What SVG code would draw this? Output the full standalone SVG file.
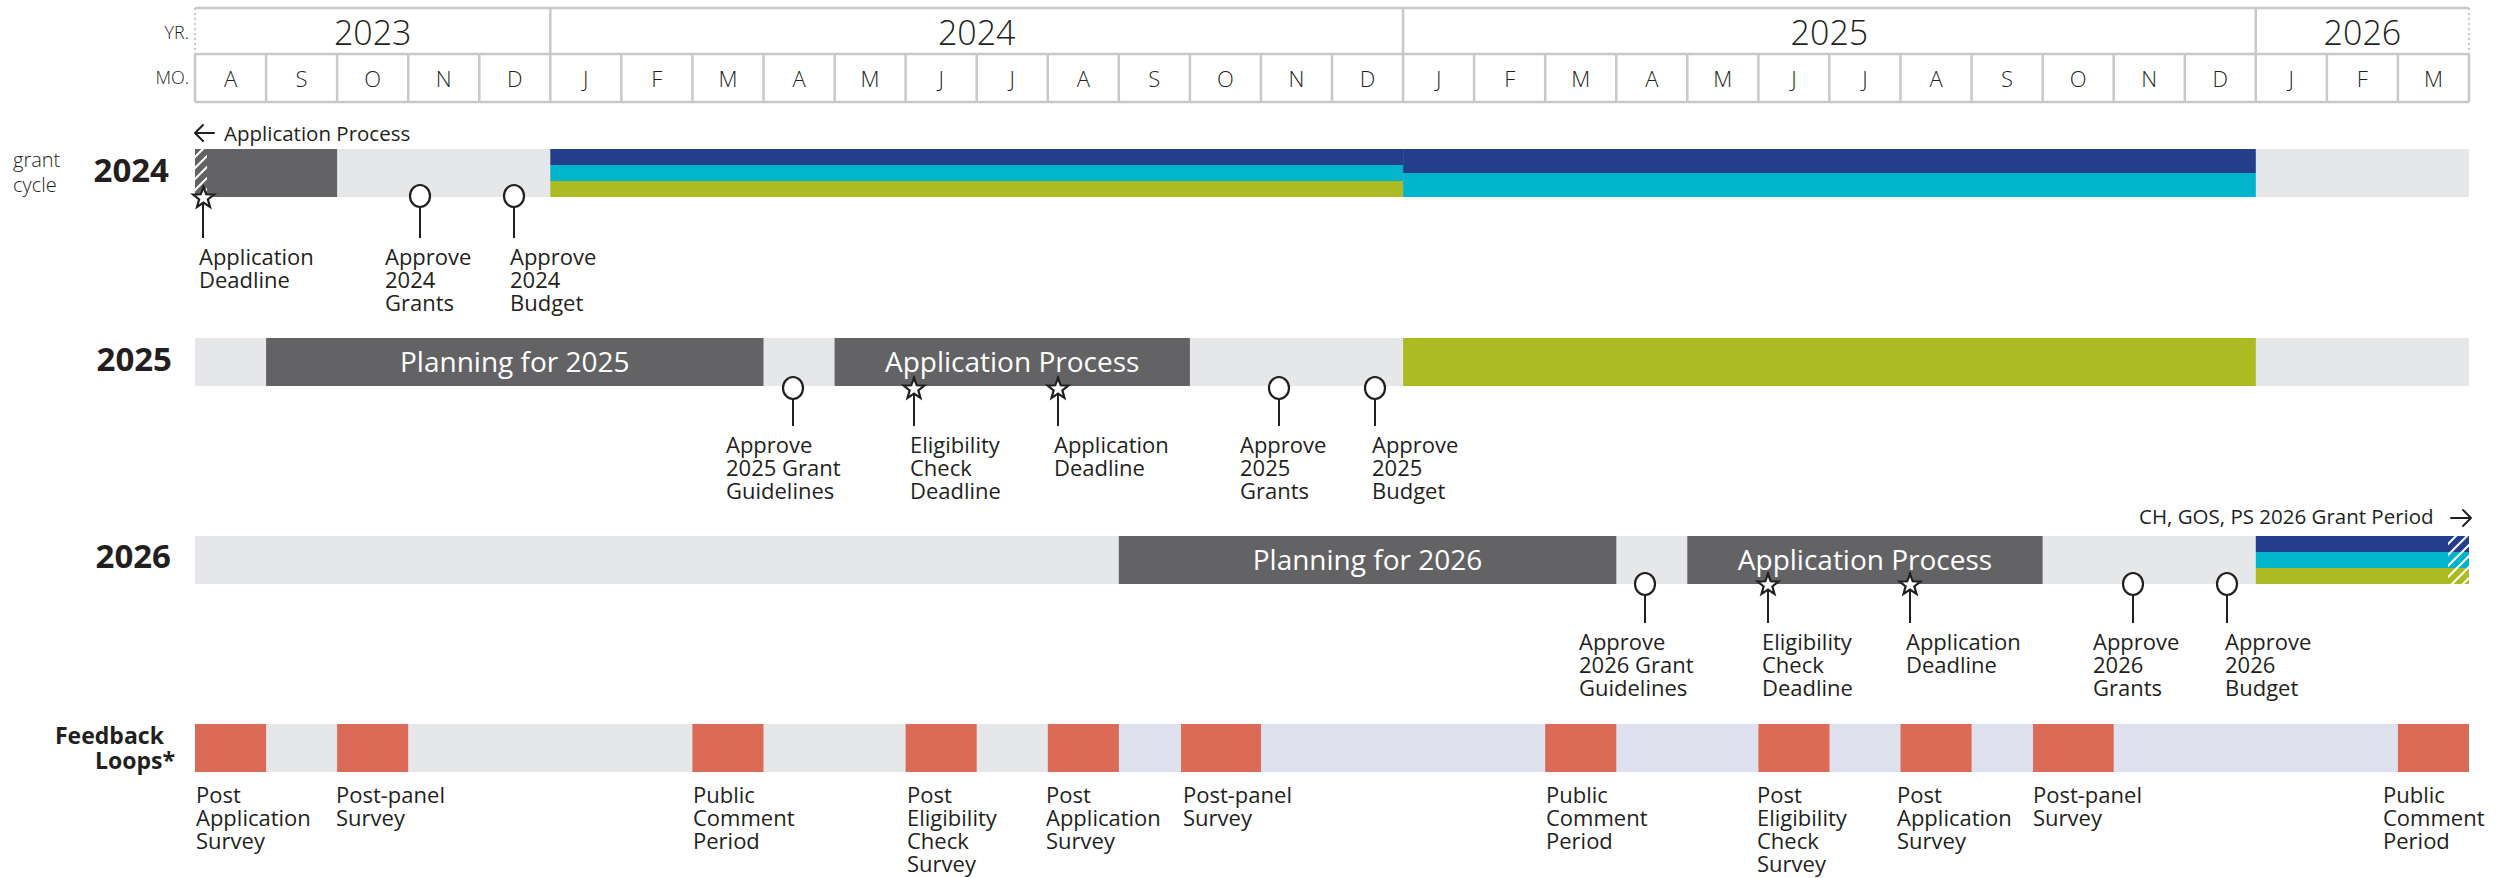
<svg xmlns="http://www.w3.org/2000/svg" width="2508" height="878" viewBox="0 0 2508 878">
<style>
text{font-family:'Open Sans','Liberation Sans',sans-serif;fill:#231f20}
.hdr{stroke:#c7c8ca;stroke-width:2.5;fill:none}
.dot{stroke:#c7c8ca;stroke-width:2;stroke-dasharray:2 3;fill:none}
.yr{font-size:34px;font-weight:300;text-anchor:middle}
.mo{font-size:22px;font-weight:300;text-anchor:middle}
.ax{font-size:18px;font-weight:300;text-anchor:end}
.row{font-size:33px;font-weight:700;text-anchor:end}
.lbl{font-size:22px;font-weight:500}
.bar{font-size:28px;font-weight:500;fill:#ffffff;text-anchor:middle}
.note{font-size:20.5px;font-weight:500}
.lg{fill:#e6e7e8}
.dg{fill:#636365}
.nv{fill:#253e8c}
.cy{fill:#00b4cb}
.gr{fill:#adbb22}
.or{fill:#db6b57}
.lv{fill:#dfe1ee}
.stem{stroke:#231f20;stroke-width:2;fill:none}
.ms{fill:#ffffff;stroke:#231f20;stroke-width:2.2}
.arr{stroke:#231f20;stroke-width:2;fill:none;stroke-linecap:round;stroke-linejoin:round}
</style>
<defs>
<path id="star" d="M0,-11 L2.7,-3.72 L10.46,-3.4 L4.37,1.42 L6.47,8.9 L0,4.6 L-6.47,8.9 L-4.37,1.42 L-10.46,-3.4 L-2.7,-3.72 Z"/>
<pattern id="hatch" patternUnits="userSpaceOnUse" width="11" height="11">
<path d="M-3,3 L3,-3 M0,11 L11,0 M8,14 L14,8" stroke="#ffffff" stroke-width="2"/>
</pattern>
</defs>

<g id="header">
<line class="hdr" x1="195" y1="8" x2="2469" y2="8"/>
<line class="hdr" x1="195" y1="54" x2="2469" y2="54"/>
<line class="hdr" x1="195" y1="102" x2="2469" y2="102"/>
<line class="dot" x1="195" y1="8" x2="195" y2="54"/>
<line class="dot" x1="2469" y1="8" x2="2469" y2="54"/>
<line class="hdr" x1="550.3" y1="8" x2="550.3" y2="54"/>
<line class="hdr" x1="1403.1" y1="8" x2="1403.1" y2="54"/>
<line class="hdr" x1="2255.8" y1="8" x2="2255.8" y2="54"/>
<path class="hdr" d="M195,54V102 M266.1,54V102 M337.1,54V102 M408.2,54V102 M479.3,54V102 M550.3,54V102 M621.4,54V102 M692.4,54V102 M763.5,54V102 M834.6,54V102 M905.6,54V102 M976.7,54V102 M1047.8,54V102 M1118.8,54V102 M1189.9,54V102 M1260.9,54V102 M1332,54V102 M1403.1,54V102 M1474.1,54V102 M1545.2,54V102 M1616.3,54V102 M1687.3,54V102 M1758.4,54V102 M1829.4,54V102 M1900.5,54V102 M1971.6,54V102 M2042.6,54V102 M2113.7,54V102 M2184.8,54V102 M2255.8,54V102 M2326.9,54V102 M2397.9,54V102 M2469,54V102"/>
<text class="ax" x="189" y="39">YR.</text>
<text class="ax" x="189" y="84">MO.</text>
<text class="yr" x="372.7" y="45">2023</text>
<text class="yr" x="976.7" y="45">2024</text>
<text class="yr" x="1829.4" y="45">2025</text>
<text class="yr" x="2362.4" y="45">2026</text>
<text class="mo" y="87"><tspan x="230.5">A</tspan><tspan x="301.6">S</tspan><tspan x="372.7">O</tspan><tspan x="443.7">N</tspan><tspan x="514.8">D</tspan><tspan x="585.8">J</tspan><tspan x="656.9">F</tspan><tspan x="728">M</tspan><tspan x="799">A</tspan><tspan x="870.1">M</tspan><tspan x="941.2">J</tspan><tspan x="1012.2">J</tspan><tspan x="1083.3">A</tspan><tspan x="1154.3">S</tspan><tspan x="1225.4">O</tspan><tspan x="1296.5">N</tspan><tspan x="1367.5">D</tspan><tspan x="1438.6">J</tspan><tspan x="1509.7">F</tspan><tspan x="1580.7">M</tspan><tspan x="1651.8">A</tspan><tspan x="1722.8">M</tspan><tspan x="1793.9">J</tspan><tspan x="1865">J</tspan><tspan x="1936">A</tspan><tspan x="2007.1">S</tspan><tspan x="2078.2">O</tspan><tspan x="2149.2">N</tspan><tspan x="2220.3">D</tspan><tspan x="2291.3">J</tspan><tspan x="2362.4">F</tspan><tspan x="2433.5">M</tspan></text>
</g>

<g id="row-2024">
<text x="13" y="167" style="font-size:20px;font-weight:300">grant</text>
<text x="13" y="192" style="font-size:20px;font-weight:300">cycle</text>
<text class="row" x="169" y="182">2024</text>
<rect class="lg" x="195" y="149" width="2274" height="48"/>
<rect class="dg" x="195" y="149" width="142.1" height="48"/>
<rect fill="url(#hatch)" x="195" y="149" width="12" height="48"/>
<rect class="nv" x="550.3" y="149" width="852.8" height="16"/>
<rect class="cy" x="550.3" y="165" width="852.8" height="16"/>
<rect class="gr" x="550.3" y="181" width="852.8" height="16"/>
<rect class="nv" x="1403.1" y="149" width="852.7" height="24"/>
<rect class="cy" x="1403.1" y="173" width="852.7" height="24"/>
<path class="arr" d="M214,133 H195 M203,125 L195,133 L203,141"/>
<text class="note" x="224" y="141">Application Process</text>
</g>

<g id="row-2025">
<text class="row" x="172" y="371">2025</text>
<rect class="lg" x="195" y="338" width="2274" height="48"/>
<rect class="dg" x="266.1" y="338" width="497.4" height="48"/>
<text class="bar" x="514.8" y="372">Planning for 2025</text>
<rect class="dg" x="834.6" y="338" width="355.3" height="48"/>
<text class="bar" x="1012.2" y="372">Application Process</text>
<rect class="gr" x="1403.1" y="338" width="852.7" height="48"/>
</g>

<g id="row-2026">
<text class="row" x="171" y="568">2026</text>
<rect class="lg" x="195" y="536" width="2274" height="48"/>
<rect class="dg" x="1118.8" y="536" width="497.5" height="48"/>
<text class="bar" x="1367.5" y="570">Planning for 2026</text>
<rect class="dg" x="1687.3" y="536" width="355.3" height="48"/>
<text class="bar" x="1865" y="570">Application Process</text>
<rect class="nv" x="2255.8" y="536" width="213.2" height="16"/>
<rect class="cy" x="2255.8" y="552" width="213.2" height="16"/>
<rect class="gr" x="2255.8" y="568" width="213.2" height="16"/>
<rect fill="url(#hatch)" x="2448" y="536" width="21" height="48"/>
<text class="note" x="2139" y="524">CH, GOS, PS 2026 Grant Period</text>
<path class="arr" d="M2451,518 H2471 M2463,510 L2471,518 L2463,526"/>
</g>

<g id="feedback">
<text x="55" y="744" style="font-size:23px;font-weight:700">Feedback</text>
<text x="95" y="769" style="font-size:23px;font-weight:700">Loops*</text>
<rect class="lg" x="195" y="724" width="924" height="48"/>
<rect class="lv" x="1118.8" y="724" width="1350.2" height="48"/>
<rect class="or" x="195" y="724" width="71.1" height="48"/>
<rect class="or" x="337.1" y="724" width="71.1" height="48"/>
<rect class="or" x="692.4" y="724" width="71.1" height="48"/>
<rect class="or" x="905.6" y="724" width="71.1" height="48"/>
<rect class="or" x="1047.8" y="724" width="71.1" height="48"/>
<rect class="or" x="1181" y="724" width="80" height="48"/>
<rect class="or" x="1545.2" y="724" width="71.1" height="48"/>
<rect class="or" x="1758.4" y="724" width="71.1" height="48"/>
<rect class="or" x="1900.5" y="724" width="71.1" height="48"/>
<rect class="or" x="2033" y="724" width="80.7" height="48"/>
<rect class="or" x="2397.9" y="724" width="71.1" height="48"/>
<text class="lbl" x="196" y="803">Post<tspan x="196" dy="23">Application</tspan><tspan x="196" dy="23">Survey</tspan></text>
<text class="lbl" x="336" y="803">Post-panel<tspan x="336" dy="23">Survey</tspan></text>
<text class="lbl" x="693" y="803">Public<tspan x="693" dy="23">Comment</tspan><tspan x="693" dy="23">Period</tspan></text>
<text class="lbl" x="907" y="803">Post<tspan x="907" dy="23">Eligibility</tspan><tspan x="907" dy="23">Check</tspan><tspan x="907" dy="23">Survey</tspan></text>
<text class="lbl" x="1046" y="803">Post<tspan x="1046" dy="23">Application</tspan><tspan x="1046" dy="23">Survey</tspan></text>
<text class="lbl" x="1183" y="803">Post-panel<tspan x="1183" dy="23">Survey</tspan></text>
<text class="lbl" x="1546" y="803">Public<tspan x="1546" dy="23">Comment</tspan><tspan x="1546" dy="23">Period</tspan></text>
<text class="lbl" x="1757" y="803">Post<tspan x="1757" dy="23">Eligibility</tspan><tspan x="1757" dy="23">Check</tspan><tspan x="1757" dy="23">Survey</tspan></text>
<text class="lbl" x="1897" y="803">Post<tspan x="1897" dy="23">Application</tspan><tspan x="1897" dy="23">Survey</tspan></text>
<text class="lbl" x="2033" y="803">Post-panel<tspan x="2033" dy="23">Survey</tspan></text>
<text class="lbl" x="2383" y="803">Public<tspan x="2383" dy="23">Comment</tspan><tspan x="2383" dy="23">Period</tspan></text>
</g>

<g id="connectors">
<path class="stem" d="M203,186V238 M420,207V238 M514,207V238"/>
<path class="stem" d="M793,398V426 M914,376V426 M1058,376V426 M1279,398V426 M1375,398V426"/>
<path class="stem" d="M1645,595V623 M1768,572V623 M1910,572V623 M2133,595V623 M2227,595V623"/>
</g>

<g id="m2024-app-deadline"><use href="#star" class="ms" x="203.5" y="198"/><text class="lbl" x="199" y="265">Application<tspan x="199" dy="23">Deadline</tspan></text></g>
<g id="m2024-grants"><ellipse class="ms" cx="420" cy="196" rx="10" ry="11"/><text class="lbl" x="385" y="265">Approve<tspan x="385" dy="23">2024</tspan><tspan x="385" dy="23">Grants</tspan></text></g>
<g id="m2024-budget"><ellipse class="ms" cx="514" cy="196" rx="10" ry="11"/><text class="lbl" x="510" y="265">Approve<tspan x="510" dy="23">2024</tspan><tspan x="510" dy="23">Budget</tspan></text></g>

<g id="m2025-guidelines"><ellipse class="ms" cx="793" cy="388" rx="10" ry="11"/><text class="lbl" x="726" y="453">Approve<tspan x="726" dy="23">2025 Grant</tspan><tspan x="726" dy="23">Guidelines</tspan></text></g>
<g id="m2025-elig"><use href="#star" class="ms" x="914" y="389"/><text class="lbl" x="910" y="453">Eligibility<tspan x="910" dy="23">Check</tspan><tspan x="910" dy="23">Deadline</tspan></text></g>
<g id="m2025-app-deadline"><use href="#star" class="ms" x="1058" y="389"/><text class="lbl" x="1054" y="453">Application<tspan x="1054" dy="23">Deadline</tspan></text></g>
<g id="m2025-grants"><ellipse class="ms" cx="1279" cy="388" rx="10" ry="11"/><text class="lbl" x="1240" y="453">Approve<tspan x="1240" dy="23">2025</tspan><tspan x="1240" dy="23">Grants</tspan></text></g>
<g id="m2025-budget"><ellipse class="ms" cx="1375" cy="388" rx="10" ry="11"/><text class="lbl" x="1372" y="453">Approve<tspan x="1372" dy="23">2025</tspan><tspan x="1372" dy="23">Budget</tspan></text></g>

<g id="m2026-guidelines"><ellipse class="ms" cx="1645" cy="584" rx="10" ry="11"/><text class="lbl" x="1579" y="650">Approve<tspan x="1579" dy="23">2026 Grant</tspan><tspan x="1579" dy="23">Guidelines</tspan></text></g>
<g id="m2026-elig"><use href="#star" class="ms" x="1768" y="585"/><text class="lbl" x="1762" y="650">Eligibility<tspan x="1762" dy="23">Check</tspan><tspan x="1762" dy="23">Deadline</tspan></text></g>
<g id="m2026-app-deadline"><use href="#star" class="ms" x="1910" y="585"/><text class="lbl" x="1906" y="650">Application<tspan x="1906" dy="23">Deadline</tspan></text></g>
<g id="m2026-grants"><ellipse class="ms" cx="2133" cy="584" rx="10" ry="11"/><text class="lbl" x="2093" y="650">Approve<tspan x="2093" dy="23">2026</tspan><tspan x="2093" dy="23">Grants</tspan></text></g>
<g id="m2026-budget"><ellipse class="ms" cx="2227" cy="584" rx="10" ry="11"/><text class="lbl" x="2225" y="650">Approve<tspan x="2225" dy="23">2026</tspan><tspan x="2225" dy="23">Budget</tspan></text></g>
</svg>
